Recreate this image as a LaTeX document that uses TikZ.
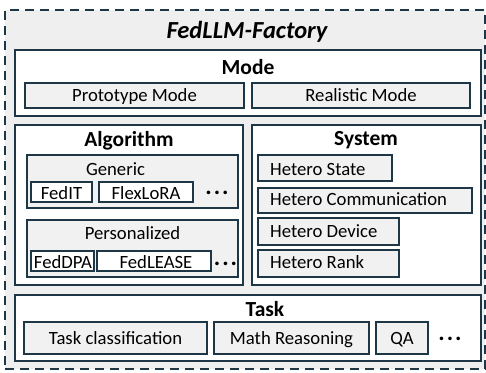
\documentclass[tikz,border=0pt]{standalone}
\usepackage{fontspec}
\setmainfont{Carlito}
\definecolor{dark}{HTML}{1E3747}
\definecolor{bgray}{HTML}{EFEFEF}
\definecolor{igray}{HTML}{F1F1F1}
\tikzset{
  frame/.style={draw=dark, line width=2.5pt, dash pattern=on 9pt off 6pt, fill=bgray, anchor=north west, inner sep=0pt, outer sep=0pt},
  bigbox/.style={draw=dark, line width=1.8pt, fill=white, anchor=north west, inner sep=0pt, outer sep=0pt},
  grpbox/.style={draw=dark, line width=1.4pt, fill=igray, anchor=north west, inner sep=0pt, outer sep=0pt},
  itembox/.style={draw=dark, line width=1.4pt, fill=igray, anchor=north west, inner sep=0pt, outer sep=0pt},
  algitem/.style={draw=dark, line width=1.4pt, fill=white, anchor=north west, inner sep=0pt, outer sep=0pt},
  lbl/.style={anchor=base, inner sep=0pt, font=\fontsize{18.7}{22}\selectfont},
  lbll/.style={anchor=base west, inner sep=0pt, font=\fontsize{18.7}{22}\selectfont},
  ttl/.style={anchor=base, inner sep=0pt, font=\bfseries\fontsize{21.5}{25}\selectfont},
  dotsl/.style={anchor=base, inner sep=0pt, font=\bfseries\fontsize{24}{26}\selectfont},
}
\newcommand{\mydots}{.\kern2pt.\kern2pt.}
\begin{document}
\begin{tikzpicture}[x=1pt,y=-1pt]
\useasboundingbox (0,0) rectangle (486,372);
\node[frame, minimum width=480pt, minimum height=359pt] (frame) at (5,10) {};
\node[anchor=base, inner sep=0pt, font=\bfseries\itshape\fontsize{24.5}{28}\selectfont] (title) at (247,38) {FedLLM-Factory};
% Mode
\node[bigbox, minimum width=466pt, minimum height=66pt] (mode) at (15,50) {};
\node[ttl] (modet) at (248,74) {Mode};
\node[itembox, minimum width=219pt, minimum height=25pt] (proto) at (25,83) {};
\node[lbl] (protot) at (134.5,101) {Prototype Mode};
\node[itembox, minimum width=218pt, minimum height=25pt] (real) at (252,83) {};
\node[lbl] (realt) at (361,101) {Realistic Mode};
% Algorithm
\node[bigbox, minimum width=228pt, minimum height=160pt] (alg) at (15,125) {};
\node[ttl] (algt) at (129,146.5) {Algorithm};
\node[grpbox, minimum width=211pt, minimum height=53pt] (gen) at (27,155) {};
\node[lbl] (gent) at (115.5,175) {Generic};
\node[algitem, minimum width=61pt, minimum height=20pt] (fedit) at (31,182) {};
\node[lbl] (feditt) at (61.5,199.5) {FedIT};
\node[algitem, minimum width=94pt, minimum height=20pt] (flex) at (99,182) {};
\node[lbl] (flext) at (146,199.5) {FlexLoRA};
\node[dotsl] (gdots) at (217,194.5) {\mydots};
\node[grpbox, minimum width=211pt, minimum height=57pt] (pers) at (27,220) {};
\node[lbl] (perst) at (132.5,239.5) {Personalized};
\node[algitem, minimum width=63pt, minimum height=20pt] (feddpa) at (31,251) {};
\node[lbl] (feddpat) at (63,268.5) {FedDPA};
\node[algitem, minimum width=114pt, minimum height=20pt] (fedlease) at (97,251) {};
\node[lbl] (fedleaset) at (156,268.5) {FedLEASE};
\node[dotsl] (pdots) at (225.5,265.3) {\mydots};
% System
\node[bigbox, minimum width=229pt, minimum height=160pt] (sys) at (252,125) {};
\node[ttl] (syst) at (366,145.5) {System};
\node[itembox, minimum width=134pt, minimum height=26pt] (hstate) at (258,155) {};
\node[lbll] (hstatet) at (270,175) {Hetero State};
\node[itembox, minimum width=214pt, minimum height=25pt] (hcomm) at (258,188) {};
\node[lbll] (hcommt) at (270,205.5) {Hetero Communication};
\node[itembox, minimum width=141pt, minimum height=27pt] (hdev) at (258,218) {};
\node[lbll] (hdevt) at (270,237) {Hetero Device};
\node[itembox, minimum width=141pt, minimum height=27pt] (hrank) at (258,250) {};
\node[lbll] (hrankt) at (270,268.5) {Hetero Rank};
% Task
\node[bigbox, minimum width=466pt, minimum height=66pt] (task) at (15,295) {};
\node[ttl] (taskt) at (265,316.7) {Task};
\node[itembox, minimum width=183pt, minimum height=32pt] (tcls) at (24,322) {};
\node[lbl] (tclst) at (115.5,344) {Task classification};
\node[itembox, minimum width=155pt, minimum height=32pt] (math) at (214,322) {};
\node[lbl] (matht) at (291.5,344) {Math Reasoning};
\node[itembox, minimum width=52pt, minimum height=32pt] (qa) at (376,322) {};
\node[lbl] (qat) at (402,344) {QA};
\node[dotsl] (tdots) at (450,340.7) {\mydots};
\end{tikzpicture}
\end{document}
